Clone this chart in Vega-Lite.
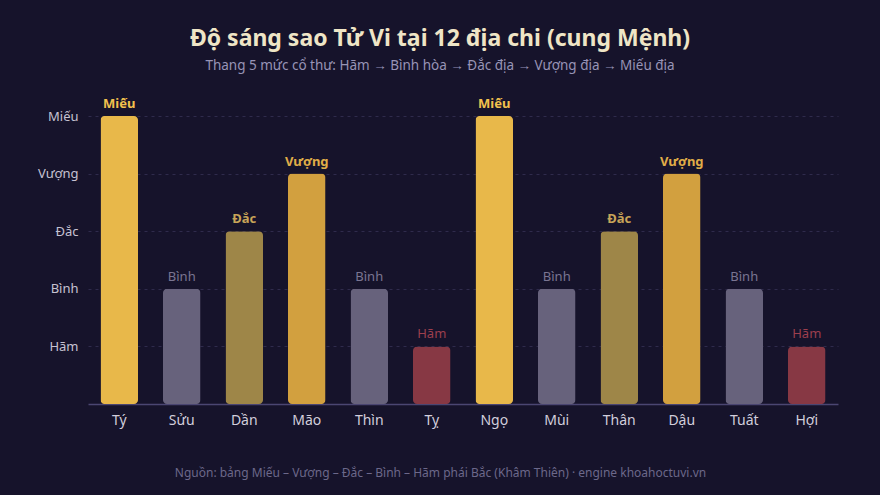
{
  "$schema": "https://vega.github.io/schema/vega-lite/v6.json",
  "width": 750,
  "height": 288,
  "autosize": {"type": "none"},
  "padding": {"left": 88, "top": 116, "right": 42, "bottom": 91},
  "background": "#16132b",
  "title": {
    "text": "Độ sáng sao Tử Vi tại 12 địa chi (cung Mệnh)",
    "subtitle": "Thang 5 mức cổ thư: Hãm → Bình hòa → Đắc địa → Vượng địa → Miếu địa",
    "anchor": "middle",
    "dx": -23,
    "offset": 26,
    "font": "Noto Sans",
    "fontSize": 23,
    "fontWeight": "bold",
    "color": "#efe5c6",
    "subtitleFont": "Noto Sans",
    "subtitleFontSize": 13.5,
    "subtitleColor": "#9894b6",
    "subtitlePadding": 8
  },
  "config": {
    "view": {"stroke": null},
    "font": "Noto Sans"
  },
  "data": {
    "values": [
      {"chi": "Tý", "muc": 5, "ten": "Miếu"},
      {"chi": "Sửu", "muc": 2, "ten": "Bình"},
      {"chi": "Dần", "muc": 3, "ten": "Đắc"},
      {"chi": "Mão", "muc": 4, "ten": "Vượng"},
      {"chi": "Thìn", "muc": 2, "ten": "Bình"},
      {"chi": "Tỵ", "muc": 1, "ten": "Hãm"},
      {"chi": "Ngọ", "muc": 5, "ten": "Miếu"},
      {"chi": "Mùi", "muc": 2, "ten": "Bình"},
      {"chi": "Thân", "muc": 3, "ten": "Đắc"},
      {"chi": "Dậu", "muc": 4, "ten": "Vượng"},
      {"chi": "Tuất", "muc": 2, "ten": "Bình"},
      {"chi": "Hợi", "muc": 1, "ten": "Hãm"}
    ]
  },
  "encoding": {
    "x": {
      "field": "chi",
      "type": "nominal",
      "sort": null,
      "scale": {"paddingInner": 0.4, "paddingOuter": 0.2},
      "axis": {
        "labelAngle": 0,
        "labelFontSize": 14,
        "labelColor": "#d2cedc",
        "labelPadding": 9,
        "ticks": false,
        "domainColor": "#4b4672",
        "domainWidth": 1.5,
        "title": "Nguồn: bảng Miếu – Vượng – Đắc – Bình – Hãm phái Bắc (Khâm Thiên) · engine khoahoctuvi.vn",
        "titleFontSize": 12,
        "titleFontWeight": "normal",
        "titleColor": "#6c688a",
        "titlePadding": 40,
        "titleX": 352
      }
    },
    "y": {
      "field": "muc",
      "type": "quantitative",
      "scale": {"domain": [0, 5], "nice": false},
      "axis": {
        "values": [1, 2, 3, 4, 5],
        "labelExpr": "['', 'Hãm', 'Bình', 'Đắc', 'Vượng', 'Miếu'][datum.value]",
        "labelFontSize": 13,
        "labelColor": "#c6c2d2",
        "labelPadding": 10,
        "ticks": false,
        "domain": false,
        "gridColor": "#2f2b4c",
        "gridDash": [3, 4],
        "gridWidth": 1,
        "title": null
      }
    }
  },
  "layer": [
    {
      "mark": {"type": "bar", "cornerRadius": 4},
      "encoding": {
        "color": {
          "field": "ten",
          "type": "nominal",
          "scale": {
            "domain": ["Miếu", "Vượng", "Đắc", "Bình", "Hãm"],
            "range": ["#e8b84a", "#d2a03f", "#9e8648", "#67627c", "#873844"]
          },
          "legend": null
        }
      }
    },
    {
      "transform": [{"filter": "datum.muc >= 3"}],
      "mark": {"type": "text", "baseline": "bottom", "dy": -5, "fontSize": 13, "fontWeight": "bold"},
      "encoding": {
        "text": {"field": "ten"},
        "color": {
          "field": "ten",
          "type": "nominal",
          "scale": {
            "domain": ["Miếu", "Vượng", "Đắc", "Bình", "Hãm"],
            "range": ["#f2c14e", "#e0ad48", "#c8a458", "#7a7592", "#9c3f4e"]
          },
          "legend": null
        }
      }
    },
    {
      "transform": [{"filter": "datum.muc < 3"}],
      "mark": {"type": "text", "baseline": "bottom", "dy": -5, "fontSize": 13, "fontWeight": "normal"},
      "encoding": {
        "text": {"field": "ten"},
        "color": {
          "field": "ten",
          "type": "nominal",
          "scale": {
            "domain": ["Miếu", "Vượng", "Đắc", "Bình", "Hãm"],
            "range": ["#f2c14e", "#e0ad48", "#c8a458", "#7a7592", "#9c3f4e"]
          },
          "legend": null
        }
      }
    }
  ],
  "resolve": {"scale": {"color": "independent"}}
}
